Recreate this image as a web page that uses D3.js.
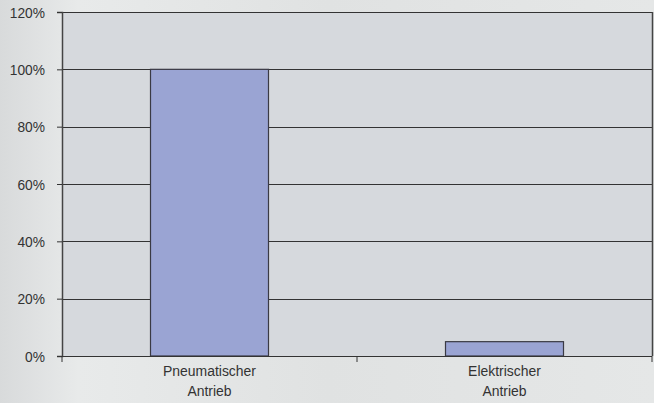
<!DOCTYPE html>
<html>
<head>
<meta charset="utf-8">
<script src="https://cdn.jsdelivr.net/npm/d3@7"></script>
<style>
  body { margin: 0; background: #e0e2e3; }
  svg { display: block; }
  text { font-family: "Liberation Sans", Arial, sans-serif; font-size: 15.5px; fill: #333; }
</style>
</head>
<body>
<svg id="chart" width="654" height="403"></svg>
<script>
const categories = [["Pneumatischer", "Antrieb"], ["Elektrischer", "Antrieb"]];
const values = [100, 5];
const yTicks = [0, 20, 40, 60, 80, 100, 120];

const width = 654, height = 403;
const margin = {top: 12, right: 2, bottom: 47, left: 62};

const svg = d3.select("#chart");

// soft backdrop standing in for the photo texture
const defs = svg.append("defs");
const grad = defs.append("linearGradient").attr("id", "bg").attr("x1", 0).attr("x2", 1);
grad.append("stop").attr("offset", "0").attr("stop-color", "#d8dadb");
grad.append("stop").attr("offset", "0.12").attr("stop-color", "#e8eaea");
grad.append("stop").attr("offset", "0.5").attr("stop-color", "#e0e2e2");
grad.append("stop").attr("offset", "1").attr("stop-color", "#e5e7e7");
svg.append("rect").attr("width", width).attr("height", height).attr("fill", "url(#bg)");

const x = d3.scaleBand()
  .domain(d3.range(categories.length))
  .range([margin.left, width - margin.right])
  .padding(0);

const y = d3.scaleLinear()
  .domain([0, 120])
  .range([height - margin.bottom, margin.top]);

// plot area
svg.append("rect")
  .attr("x", margin.left).attr("y", margin.top)
  .attr("width", width - margin.left - margin.right)
  .attr("height", height - margin.top - margin.bottom)
  .attr("fill", "#d6d9dd");

// gridlines
svg.append("g")
  .selectAll("line")
  .data(yTicks.filter(d => d > 0))
  .join("line")
  .attr("x1", margin.left).attr("x2", width - margin.right)
  .attr("y1", d => Math.round(y(d)) + 0.5).attr("y2", d => Math.round(y(d)) + 0.5)
  .attr("stroke", "#333").attr("stroke-width", 1);

// right frame
svg.append("line")
  .attr("x1", width - margin.right + 0.5).attr("x2", width - margin.right + 0.5)
  .attr("y1", margin.top).attr("y2", height - margin.bottom)
  .attr("stroke", "#444").attr("stroke-width", 1.5);

// bars
const barW = x.bandwidth() * 0.4;
svg.append("g")
  .selectAll("rect")
  .data(values)
  .join("rect")
  .attr("x", (d, i) => x(i) + (x.bandwidth() - barW) / 2)
  .attr("y", d => y(d))
  .attr("width", barW)
  .attr("height", d => y(0) - y(d))
  .attr("fill", "#9aa4d3")
  .attr("stroke", "#3a3a44")
  .attr("stroke-width", 1.2);

// y axis
const yAxis = svg.append("g")
  .attr("transform", `translate(${margin.left},0)`)
  .call(d3.axisLeft(y).tickValues(yTicks).tickFormat(d => d + "%").tickSize(5).tickPadding(17));
yAxis.select(".domain").attr("stroke", "#444").attr("stroke-width", 1.5);
yAxis.selectAll(".tick line").attr("stroke", "#333");
yAxis.selectAll("text")
  .attr("fill", "#333")
  .style("font-size", "14.5px")
  .attr("x", null)
  .attr("transform", "translate(-17,0.5) scale(0.95,1)");

// x axis
const xAxis = svg.append("g")
  .attr("transform", `translate(0,${height - margin.bottom})`);
xAxis.append("line")
  .attr("x1", margin.left - 5).attr("x2", width - margin.right)
  .attr("y1", 0.5).attr("y2", 0.5)
  .attr("stroke", "#333").attr("stroke-width", 1.2);
xAxis.selectAll(".sep")
  .data(d3.range(categories.length + 1))
  .join("line")
  .attr("class", "sep")
  .attr("x1", i => x.step() * i + margin.left).attr("x2", i => x.step() * i + margin.left)
  .attr("y1", 0).attr("y2", 6)
  .attr("stroke", "#333");

const labels = xAxis.selectAll(".lbl")
  .data(categories)
  .join("text")
  .attr("class", "lbl")
  .attr("text-anchor", "middle")
  .attr("transform", (d, i) => `translate(${x(i) + x.bandwidth() / 2},20) scale(0.9,1)`);
labels.selectAll("tspan")
  .data(d => d)
  .join("tspan")
  .attr("x", 0)
  .attr("dy", (d, i) => i === 0 ? 0 : 20)
  .text(d => d);
</script>
</body>
</html>
